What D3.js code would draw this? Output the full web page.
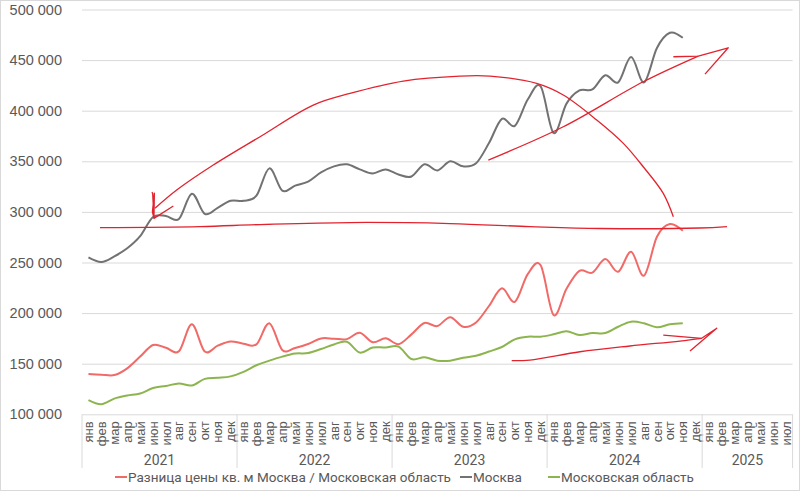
<!DOCTYPE html>
<html><head><meta charset="utf-8">
<script src="https://cdn.jsdelivr.net/npm/d3@7"></script>
<style>body{margin:0;background:#fff}svg{display:block;font-family:Roboto,"Noto Sans",sans-serif}</style>
</head><body><svg id="c" width="800" height="491"></svg>
<script>
const years = ["2021","2022","2023","2024","2025"];
const monthNames = ["янв","фев","мар","апр","май","июн","июл","авг","сен","окт","ноя","дек"];
const yTicks = [100000,150000,200000,250000,300000,350000,400000,450000,500000];
const seriesNames = ["Разница цены кв. м Москва / Московская область","Москва","Московская область"];

const diffValues = [
 139800,139200,138800,145400,157000,168500,165800,162200,189000,162000,167800,172000,
 169800,169100,190000,163500,165500,169500,175000,174700,174300,180600,171200,175100,
 169300,179000,190200,187200,196000,186600,190800,207000,224500,211200,238500,247200,
 198100,224000,241700,240000,253400,240900,260600,237100,275500,288000,281400];
const moscowValues = [
 255000,250500,256000,264000,276000,295000,296000,293000,318000,298000,304000,311000,
 311000,316000,343000,321000,326000,330000,339000,345000,347000,342000,338000,342000,
 337000,335000,347000,341000,350000,345000,348000,368000,392000,385000,411000,424000,
 378000,407000,420000,421000,435000,428000,453000,428000,462000,477000,472000];
const regionValues = [
 114000,110000,115500,118500,120500,126000,128000,130500,128500,135000,136000,137500,
 142000,148500,153000,157000,160000,160500,164500,169000,171700,161000,166000,166000,
 166800,154600,156300,153000,153000,155900,157900,162000,166500,174100,176700,176700,
 179000,182000,178300,180300,180300,186500,191500,189900,186000,188900,189900];

// hand-drawn red annotation strokes, in data units [month index, price]
const annoHorizontal = [[0.89,284400],[8.63,285500],[13.28,287500],[20.24,289500],[27.98,288500],[34.17,285500],[39.59,283600],[47.33,284100],[49.42,285500]];
const annoArc = [[5.15,303600],[6.83,321600],[9.66,346300],[13.28,374300],[17.4,405600],[20.24,417100],[24.37,429300],[28.75,434200],[31.08,434200],[34.69,427000],[36.75,415500],[39.34,390800],[41.4,367700],[42.94,344600],[44.49,318300],[45.27,295200]];
const annoArcHead = [[4.92,319700],[4.97,318000],[5.07,293600],[4.95,300000],[5.1,318500],[5.07,293600],[6.57,305800]];
const annoUp = [[30.95,351200],[36.75,384100],[42.94,428600],[47.2,454000]];
const annoUpHead = [[45.27,453300],[47.2,454000],[49.52,462200],[47.72,436200]];
const annoLow = [[32.76,153000],[34.17,153600],[38.04,161800],[41.91,167500],[45.78,172400],[47.46,175100]];
const annoLowHead = [[44.49,178300],[47.46,175100],[48.63,185000],[46.56,162500]];

const colors = ["#F06A68","#727272","#8DB54F"];
const annoColor = "#E2232E";

const svg = d3.select("#c");
const L = 82, R = 792.6, T = 9.5, B = 414.3;
const N = years.length*12 - 5; // Jan 2021 .. Jul 2025
const cats = d3.range(N);
const xb = d3.scaleBand().domain(cats).range([L,R]);
const xm = d3.scaleLinear().domain([-0.5,N-0.5]).range([L,R]);
const y = d3.scaleLinear().domain([100000,500000]).range([B,T]);

svg.append("rect").attr("x",0.5).attr("y",0.5).attr("width",799).attr("height",490).attr("fill","#fff").attr("stroke","#d9d9d9");

// grid + y axis
const ya = svg.append("g").attr("transform",`translate(${L},0)`)
  .call(d3.axisLeft(y).tickValues(yTicks).tickSize(-(R-L)).tickFormat(d=>d3.format(",")(d).replace(/,/g," ")));
ya.select(".domain").remove();
ya.selectAll(".tick line").attr("stroke","#d9d9d9");
ya.selectAll(".tick text").attr("x",-20).attr("fill","#595959").style("font-size","14.5px");

// x axis month labels
const xa = svg.append("g").attr("transform",`translate(0,${B})`)
  .call(d3.axisBottom(xb).tickSize(0).tickFormat(i=>monthNames[i%12]));
xa.select(".domain").remove();
xa.selectAll(".tick text").attr("transform","rotate(-90)").attr("text-anchor","end")
  .attr("x",-7).attr("y",0).attr("dy","0.35em").attr("fill","#595959").style("font-size","13px");

// year separators & labels
const yearG = svg.append("g");
years.forEach((yr,k)=>{
  const i0 = k*12, i1 = Math.min(N, k*12+12);
  const x0 = xb(i0), x1 = i1<N ? xb(i1) : R;
  yearG.append("text").attr("x",(x0+x1)/2).attr("y",465).attr("text-anchor","middle")
    .attr("fill","#595959").style("font-size","14px").text(yr);
});
d3.range(years.length+1).forEach(k=>{
  const xx = k*12<N ? xb(k*12) : R;
  yearG.append("line").attr("x1",xx).attr("x2",xx).attr("y1",B).attr("y2",468).attr("stroke","#d9d9d9");
});

// series
const line = d3.line().defined(d=>d[1]!=null).x(d=>xm(d[0])).y(d=>y(d[1])).curve(d3.curveCatmullRom.alpha(0));
[diffValues,moscowValues,regionValues].forEach((vals,s)=>{
  svg.append("path").datum(vals.map((v,i)=>[i,v])).attr("d",line)
    .attr("fill","none").attr("stroke",colors[s]).attr("stroke-width",2);
});

// annotations
const aline = d3.line().x(d=>xm(d[0])).y(d=>y(d[1])).curve(d3.curveCatmullRom.alpha(0.5));
const sline = d3.line().x(d=>xm(d[0])).y(d=>y(d[1]));
[[annoHorizontal,aline],[annoArc,aline],[annoArcHead,sline],[annoUp,aline],[annoUpHead,sline],[annoLow,aline],[annoLowHead,sline]].forEach(([pts,g])=>{
  svg.append("path").attr("d",g(pts)).attr("fill","none").attr("stroke",annoColor).attr("stroke-width",1.3).attr("stroke-linejoin","round");
});

// legend
const lg = svg.append("g").attr("transform","translate(0,477)");
const lx = [115,460,548];
seriesNames.forEach((n,s)=>{
  lg.append("line").attr("x1",lx[s]).attr("x2",lx[s]+12).attr("y1",0).attr("y2",0).attr("stroke",colors[s]).attr("stroke-width",2);
  lg.append("text").attr("x",lx[s]+13).attr("y",0).attr("dy","0.35em").attr("fill","#595959").style("font-size","13.5px").text(n);
});
</script></body></html>
